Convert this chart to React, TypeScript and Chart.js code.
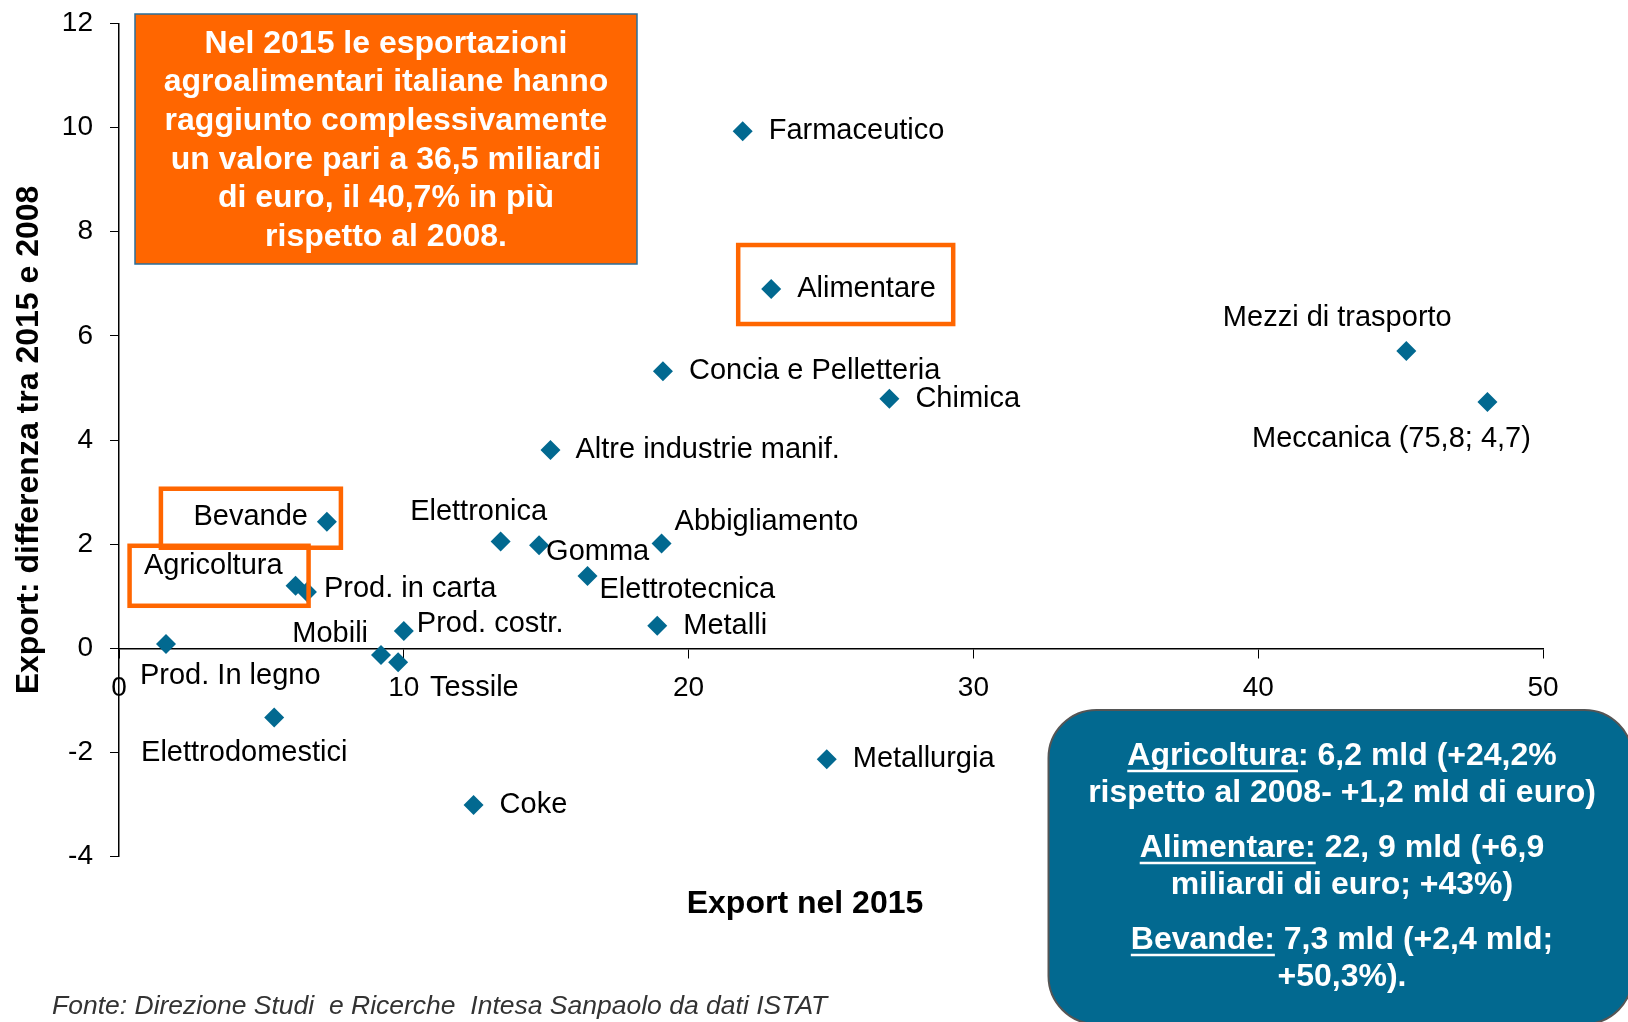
import React, { useEffect, useRef } from "react";
import { Chart, registerables } from "chart.js";

Chart.register(...registerables);

// ---- Data ----
const sectors = [
  "Farmaceutico",
  "Alimentare",
  "Concia e Pelletteria",
  "Chimica",
  "Mezzi di trasporto",
  "Meccanica (75,8; 4,7)",
  "Altre industrie manif.",
  "Bevande",
  "Elettronica",
  "Gomma",
  "Abbigliamento",
  "Elettrotecnica",
  "Agricoltura",
  "Prod. in carta",
  "Metalli",
  "Prod. costr.",
  "Prod. In legno",
  "Mobili",
  "Tessile",
  "Elettrodomestici",
  "Metallurgia",
  "Coke",
];
const export2015 = [
  21.9, 22.9, 19.1, 27.05, 45.2, 48.05, 15.15, 7.3, 13.4, 14.75, 19.05, 16.45,
  6.2, 6.6, 18.9, 10.0, 1.65, 9.2, 9.8, 5.45, 24.85, 12.45,
];
const diff2015vs2008 = [
  9.93, 6.9, 5.32, 4.79, 5.71, 4.73, 3.81, 2.43, 2.05, 1.98, 2.01, 1.39, 1.2,
  1.08, 0.43, 0.33, 0.08, -0.13, -0.27, -1.33, -2.13, -3.01,
];
const xTickValues = [0, 10, 20, 30, 40, 50];
const yTickValues = [-4, -2, 0, 2, 4, 6, 8, 10, 12];
const highlighted = ["Alimentare", "Bevande", "Agricoltura"];

const xAxisTitle = "Export nel 2015";
const yAxisTitle = "Export: differenza tra 2015 e 2008";
const sourceNote = "Fonte: Direzione Studi  e Ricerche  Intesa Sanpaolo da dati ISTAT";
const orangeNoteLines = [
  "Nel 2015 le esportazioni",
  "agroalimentari italiane hanno",
  "raggiunto complessivamente",
  "un valore pari a 36,5 miliardi",
  "di euro, il 40,7% in più",
  "rispetto al 2008.",
];
// [underlined part, rest]
const blueNoteParagraphs: [string, string][][] = [
  [["Agricoltura", ": 6,2 mld (+24,2%"], ["", "rispetto al 2008- +1,2 mld di euro)"]],
  [["Alimentare:", " 22, 9 mld (+6,9"], ["", "miliardi di euro; +43%)"]],
  [["Bevande:", " 7,3 mld (+2,4 mld;"], ["", "+50,3%)."]],
];

// ---- Label placement (pixel offsets from each point) ----
const labelPlacement: { dx: number; dy: number; align: CanvasTextAlign }[] = [
  { dx: 26, dy: 0, align: "left" }, // Farmaceutico
  { dx: 26, dy: 0, align: "left" }, // Alimentare
  { dx: 26, dy: 0, align: "left" }, // Concia
  { dx: 26, dy: 0, align: "left" }, // Chimica
  { dx: -69, dy: -33, align: "center" }, // Mezzi
  { dx: -96, dy: 37, align: "center" }, // Meccanica
  { dx: 25, dy: 0, align: "left" }, // Altre
  { dx: -19, dy: -5, align: "right" }, // Bevande
  { dx: -22, dy: -30, align: "center" }, // Elettronica
  { dx: 7, dy: 7, align: "left" }, // Gomma
  { dx: 13, dy: -22, align: "left" }, // Abbigliamento
  { dx: 12, dy: 14, align: "left" }, // Elettrotecnica
  { dx: -13, dy: -20, align: "right" }, // Agricoltura
  { dx: 17, dy: -3, align: "left" }, // Prod. in carta
  { dx: 26, dy: 0, align: "left" }, // Metalli
  { dx: 13, dy: -7, align: "left" }, // Prod. costr.
  { dx: -26, dy: 32, align: "left" }, // Prod. In legno
  { dx: -13, dy: -21, align: "right" }, // Mobili
  { dx: 32, dy: 26, align: "left" }, // Tessile
  { dx: -30, dy: 36, align: "center" }, // Elettrodomestici
  { dx: 26, dy: 0, align: "left" }, // Metallurgia
  { dx: 26, dy: 0, align: "left" }, // Coke
];
const highlightBoxes: Record<string, { l: number; r: number; t: number; b: number }> = {
  Alimentare: { l: -33, r: 182, t: -44, b: 35 },
  Bevande: { l: -166, r: 14, t: -33, b: 26 },
  Agricoltura: { l: -166, r: 13, t: -40, b: 20 },
};

const FONT = '"Liberation Sans", Arial, Helvetica, sans-serif';
const BLUE = "#026990";
const ORANGE = "#FF6600";

function roundRect(ctx: CanvasRenderingContext2D, x: number, y: number, w: number, h: number, r: number) {
  ctx.beginPath();
  ctx.moveTo(x + r, y);
  ctx.lineTo(x + w - r, y);
  ctx.arcTo(x + w, y, x + w, y + r, r);
  ctx.lineTo(x + w, y + h - r);
  ctx.arcTo(x + w, y + h, x + w - r, y + h, r);
  ctx.lineTo(x + r, y + h);
  ctx.arcTo(x, y + h, x, y + h - r, r);
  ctx.lineTo(x, y + r);
  ctx.arcTo(x, y, x + r, y, r);
  ctx.closePath();
}

const overlayPlugin = {
  id: "overlay",
  afterDatasetsDraw(chart: any) {
    const ctx: CanvasRenderingContext2D = chart.ctx;
    const meta = chart.getDatasetMeta(0);
    ctx.save();
    // point labels
    ctx.font = `29px ${FONT}`;
    ctx.fillStyle = "#000";
    ctx.textBaseline = "middle";
    meta.data.forEach((pt: any, i: number) => {
      const p = labelPlacement[i];
      ctx.textAlign = p.align;
      ctx.fillText(sectors[i], pt.x + p.dx, pt.y + p.dy);
    });
    // highlight boxes
    ctx.strokeStyle = ORANGE;
    ctx.lineWidth = 4.5;
    highlighted.forEach((name) => {
      const i = sectors.indexOf(name);
      const pt = meta.data[i];
      const b = highlightBoxes[name];
      ctx.strokeRect(pt.x + b.l, pt.y + b.t, b.r - b.l, b.b - b.t);
    });
    ctx.restore();
  },
  afterDraw(chart: any) {
    const ctx: CanvasRenderingContext2D = chart.ctx;
    const area = chart.chartArea;
    ctx.save();
    // axis titles
    ctx.fillStyle = "#000";
    ctx.font = `bold 32px ${FONT}`;
    ctx.textAlign = "center";
    ctx.textBaseline = "middle";
    ctx.fillText(xAxisTitle, 805, 904);
    ctx.save();
    ctx.translate(29, (area.top + area.bottom) / 2);
    ctx.rotate(-Math.PI / 2);
    ctx.fillText(yAxisTitle, 0, 0);
    ctx.restore();

    // source note
    ctx.font = `italic 26.5px ${FONT}`;
    ctx.fillStyle = "#333";
    ctx.textAlign = "left";
    ctx.fillText(sourceNote, 52, 1007);

    // orange note box
    ctx.fillStyle = ORANGE;
    ctx.fillRect(135, 14, 502, 250);
    ctx.strokeStyle = "#2A6F9A";
    ctx.lineWidth = 1.5;
    ctx.strokeRect(135, 14, 502, 250);
    ctx.fillStyle = "#fff";
    ctx.font = `bold 32px ${FONT}`;
    ctx.textAlign = "center";
    orangeNoteLines.forEach((line, i) => {
      ctx.fillText(line, 386, 44 + i * 38.6);
    });

    // blue note box
    roundRect(ctx, 1048.5, 710, 584, 314, 48);
    ctx.fillStyle = BLUE;
    ctx.fill();
    ctx.strokeStyle = "#555";
    ctx.lineWidth = 2;
    ctx.stroke();
    ctx.fillStyle = "#fff";
    ctx.strokeStyle = "#fff";
    ctx.font = `bold 32px ${FONT}`;
    ctx.textAlign = "left";
    const cx = 1342;
    let y = 756;
    blueNoteParagraphs.forEach((para) => {
      para.forEach(([u, rest]) => {
        const wU = ctx.measureText(u).width;
        const wR = ctx.measureText(rest).width;
        const x0 = cx - (wU + wR) / 2;
        ctx.fillText(u, x0, y);
        ctx.fillText(rest, x0 + wU, y);
        if (u) {
          ctx.lineWidth = 2.5;
          ctx.beginPath();
          ctx.moveTo(x0, y + 15);
          ctx.lineTo(x0 + wU, y + 15);
          ctx.stroke();
        }
        y += 37.5;
      });
      y += 17;
    });
    ctx.restore();
  },
};

export default function App() {
  const ref = useRef<HTMLCanvasElement>(null);
  useEffect(() => {
    const points = export2015.map((x, i) => ({ x, y: diff2015vs2008[i] }));
    const tickFont = { family: FONT, size: 28 };
    const chart = new Chart(ref.current!, {
      type: "scatter",
      data: {
        datasets: [
          {
            data: points,
            pointStyle: "rectRot",
            pointRadius: 10,
            backgroundColor: BLUE,
            borderColor: BLUE,
            borderWidth: 0,
          },
        ],
      },
      options: {
        responsive: false,
        animation: false,
        devicePixelRatio: 1,
        layout: { padding: { left: 0, top: 23.5, right: 85, bottom: 165.5 } },
        plugins: { legend: { display: false }, tooltip: { enabled: false } },
        scales: {
          x: {
            type: "linear",
            position: { y: 0 } as any,
            min: 0,
            max: 50,
            afterBuildTicks: (s: any) => {
              s.ticks = xTickValues.map((v) => ({ value: v }));
            },
            afterFit: (s: any) => {
              s.paddingLeft = 0;
              s.paddingRight = 0;
            },
            grid: { drawOnChartArea: false, drawTicks: true, tickLength: 9, color: "#000", lineWidth: 1 },
            border: { display: true, color: "#000", width: 1.5 },
            ticks: { color: "#000", font: tickFont, padding: 14, maxRotation: 0, autoSkip: false },
          },
          y: {
            type: "linear",
            min: -4,
            max: 12,
            afterBuildTicks: (s: any) => {
              s.ticks = yTickValues.map((v) => ({ value: v }));
            },
            afterFit: (s: any) => {
              s.width = 119;
              s.paddingTop = 0;
              s.paddingBottom = 0;
            },
            grid: { drawOnChartArea: false, drawTicks: true, tickLength: 9, color: "#000", lineWidth: 1 },
            border: { display: true, color: "#000", width: 1.5 },
            ticks: { color: "#000", font: tickFont, padding: 17, autoSkip: false },
          },
        },
      },
      plugins: [overlayPlugin],
    });
    return () => chart.destroy();
  }, []);
  return (
    <div style={{ position: "absolute", left: 0, top: 0, width: 1628, height: 1022, background: "#fff", overflow: "hidden" }}>
      <canvas ref={ref} width={1628} height={1022} style={{ display: "block", width: 1628, height: 1022 }} />
    </div>
  );
}
